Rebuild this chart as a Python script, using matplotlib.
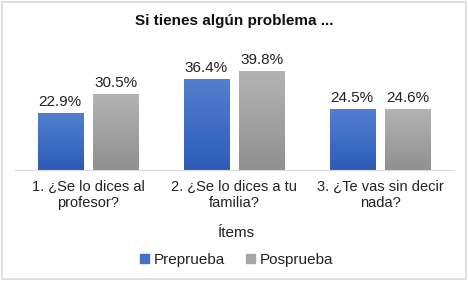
import numpy as np
import matplotlib.pyplot as plt
from matplotlib.patches import Rectangle
from matplotlib.colors import LinearSegmentedColormap

plt.rcParams['font.family'] = ['Liberation Sans', 'DejaVu Sans']

categorias = ['1. ¿Se lo dices al\nprofesor?', '2. ¿Se lo dices a tu\nfamilia?', '3. ¿Te vas sin decir\nnada?']
preprueba = [22.9, 36.4, 24.5]
posprueba = [30.5, 39.8, 24.6]
series = ['Preprueba', 'Posprueba']

azul = '#4472C4'
gris = '#A5A5A5'
grad_azul = LinearSegmentedColormap.from_list('az', ['#2c5cb8', '#5280cf'])
grad_gris = LinearSegmentedColormap.from_list('gr', ['#909090', '#b3b3b3'])

fig = plt.figure(figsize=(4.68, 2.81), dpi=100)
ax = fig.add_axes([0.032, 0.395, 0.936, 0.399])

x = np.arange(len(categorias))
w = 0.31
b1 = ax.bar(x - 0.19, preprueba, w, color=azul, label=series[0])
b2 = ax.bar(x + 0.19, posprueba, w, color=gris, label=series[1])

# degradado vertical dentro de cada barra
grad = np.linspace(0, 1, 100).reshape(-1, 1)
for barras, cmap in [(b1, grad_azul), (b2, grad_gris)]:
    for r in barras:
        x0, y0 = r.get_x(), r.get_y()
        im = ax.imshow(grad, cmap=cmap, origin='lower', aspect='auto',
                       extent=[x0, x0 + r.get_width(), y0, y0 + r.get_height()], zorder=2)
        im.set_clip_path(r)
        r.set_alpha(0)

ax.bar_label(b1, fmt='%.1f%%', padding=3, fontsize=11, color='#222222')
ax.bar_label(b2, fmt='%.1f%%', padding=3, fontsize=11, color='#222222')

ax.set_xlim(-0.5, 2.5)
ax.set_ylim(0, 45)
ax.set_yticks([])
ax.set_xticks(x)
ax.set_xticklabels(categorias, fontsize=10.5, color='#222222', linespacing=1.25)
ax.tick_params(axis='x', length=0, pad=7)
for s in ['top', 'right', 'left']:
    ax.spines[s].set_visible(False)
ax.spines['bottom'].set_color('#d9d9d9')

fig.text(0.5, 0.925, 'Si tienes algún problema ...', ha='center', va='center',
         fontsize=11, fontweight='bold', color='#111111')
fig.text(0.505, 0.17, 'Ítems', ha='center', va='center', fontsize=11, color='#222222')

fig.legend(handles=[Rectangle((0, 0), 1, 1, color=azul), Rectangle((0, 0), 1, 1, color=gris)],
           labels=series, loc='center', bbox_to_anchor=(0.505, 0.075),
           ncol=2, frameon=False, fontsize=11, handlelength=0.6, handleheight=0.6,
           handletextpad=0.3, columnspacing=1.4, labelcolor='#222222')

fig.patches.append(Rectangle((0.004, 0.006), 0.992, 0.988, transform=fig.transFigure,
                             fill=False, edgecolor='#d9d9d9', linewidth=1.2))

fig.savefig('out.png', dpi=100)
